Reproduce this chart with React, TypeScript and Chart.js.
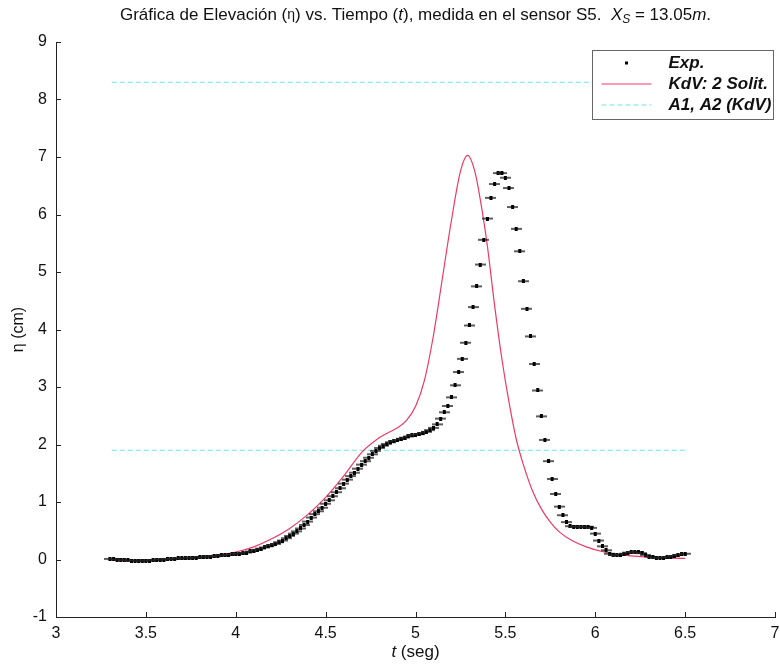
import React, { useEffect, useRef } from "react";
import { Chart, registerables } from "chart.js";

Chart.register(...registerables);

// ---------- data ----------
const X_TICKS = [3, 3.5, 4, 4.5, 5, 5.5, 6, 6.5, 7];
const Y_TICKS = [-1, 0, 1, 2, 3, 4, 5, 6, 7, 8, 9];

const T_EXP = [
  3.30, 3.32, 3.34, 3.36, 3.38, 3.40, 3.42, 3.44, 3.46, 3.48,
  3.50, 3.52, 3.54, 3.56, 3.58, 3.60, 3.62, 3.64, 3.66, 3.68,
  3.70, 3.72, 3.74, 3.76, 3.78, 3.80, 3.82, 3.84, 3.86, 3.88,
  3.90, 3.92, 3.94, 3.96, 3.98, 4.00, 4.02, 4.04, 4.06, 4.08,
  4.10, 4.12, 4.14, 4.16, 4.18, 4.20, 4.22, 4.24, 4.26, 4.28,
  4.30, 4.32, 4.34, 4.36, 4.38, 4.40, 4.42, 4.44, 4.46, 4.48,
  4.50, 4.52, 4.54, 4.56, 4.58, 4.60, 4.62, 4.64, 4.66, 4.68,
  4.70, 4.72, 4.74, 4.76, 4.78, 4.80, 4.82, 4.84, 4.86, 4.88,
  4.90, 4.92, 4.94, 4.96, 4.98, 5.00, 5.02, 5.04, 5.06, 5.08,
  5.10, 5.12, 5.14, 5.16, 5.18, 5.20, 5.22, 5.24, 5.26, 5.28,
  5.30, 5.32, 5.34, 5.36, 5.38, 5.40, 5.42, 5.44, 5.46, 5.48,
  5.50, 5.52, 5.54, 5.56, 5.58, 5.60, 5.62, 5.64, 5.66, 5.68,
  5.70, 5.72, 5.74, 5.76, 5.78, 5.80, 5.82, 5.84, 5.86, 5.88,
  5.90, 5.92, 5.94, 5.96, 5.98, 6.00, 6.02, 6.04, 6.06, 6.08,
  6.10, 6.12, 6.14, 6.16, 6.18, 6.20, 6.22, 6.24, 6.26, 6.28,
  6.30, 6.32, 6.34, 6.36, 6.38, 6.40, 6.42, 6.44, 6.46, 6.48,
  6.50,
];

const ETA_EXP = [
  0.01, 0.01, 0.00, 0.00, -0.01, -0.01, -0.02, -0.02, -0.02, -0.02,
  -0.02, -0.02, -0.01, -0.01, 0.00, 0.00, 0.01, 0.01, 0.01, 0.02,
  0.02, 0.02, 0.03, 0.03, 0.03, 0.04, 0.04, 0.05, 0.05, 0.06,
  0.06, 0.07, 0.07, 0.08, 0.09, 0.10, 0.10, 0.11, 0.12, 0.14,
  0.15, 0.17, 0.19, 0.21, 0.23, 0.25, 0.27, 0.30, 0.33, 0.37,
  0.41, 0.45, 0.49, 0.54, 0.60, 0.66, 0.73, 0.79, 0.84, 0.90,
  0.97, 1.03, 1.10, 1.17, 1.24, 1.32, 1.39, 1.45, 1.51, 1.58,
  1.65, 1.71, 1.77, 1.83, 1.89, 1.94, 1.98, 2.01, 2.04, 2.06,
  2.08, 2.10, 2.12, 2.14, 2.16, 2.17, 2.18, 2.20, 2.22, 2.25,
  2.29, 2.35, 2.45, 2.56, 2.67, 2.82, 3.03, 3.26, 3.49, 3.77,
  4.07, 4.39, 4.75, 5.13, 5.56, 5.93, 6.29, 6.53, 6.72, 6.72,
  6.64, 6.46, 6.13, 5.75, 5.36, 4.84, 4.36, 3.88, 3.40, 2.94,
  2.49, 2.08, 1.71, 1.40, 1.14, 0.92, 0.77, 0.65, 0.58, 0.57,
  0.57, 0.57, 0.57, 0.57, 0.55, 0.45, 0.33, 0.23, 0.16, 0.10,
  0.08, 0.07, 0.08, 0.10, 0.12, 0.13, 0.13, 0.13, 0.11, 0.08,
  0.05, 0.04, 0.03, 0.03, 0.03, 0.04, 0.05, 0.06, 0.08, 0.09,
  0.10,
];

const T_KDV = [
  3.30, 3.40, 3.50, 3.60, 3.70, 3.80, 3.90, 4.00, 4.10, 4.20,
  4.30, 4.40, 4.50, 4.60, 4.70, 4.80, 4.85, 4.90, 4.95, 5.00,
  5.05, 5.10, 5.15, 5.20, 5.25, 5.29, 5.33, 5.37, 5.40, 5.44,
  5.48, 5.52, 5.56, 5.60, 5.65, 5.70, 5.75, 5.80, 5.87, 5.95,
  6.05, 6.15, 6.30, 6.50,
];
const ETA_KDV = [
  -0.01, -0.02, -0.01, 0.00, 0.02, 0.05, 0.08, 0.13, 0.22, 0.36,
  0.54, 0.78, 1.08, 1.45, 1.86, 2.12, 2.21, 2.29, 2.42, 2.66,
  3.12, 3.90, 4.90, 5.90, 6.75, 7.03, 6.75, 6.08, 5.45, 4.42,
  3.50, 2.74, 2.10, 1.65, 1.20, 0.88, 0.65, 0.48, 0.33, 0.22,
  0.13, 0.08, 0.04, 0.02,
];

const T_AMP = [3.31, 6.5];
const A1 = 8.3;
const A2 = 1.9;

const LABEL_EXP = "Exp.";
const LABEL_KDV = "KdV: 2 Solit.";
const LABEL_AMP = "A1, A2 (KdV)";

// ---------- style ----------
const FONT = 'Arial, "Liberation Sans", Helvetica, sans-serif';
const RED = "rgb(236,58,102)";
const CYAN = "rgb(110,228,228)";

type Seg = { t: string; italic?: boolean; sub?: boolean; small?: boolean };
const TITLE_SEGS: Seg[] = [
  { t: "Gráfica de Elevación (" },
  { t: "η", small: true },
  { t: ") vs. Tiempo (" },
  { t: "t", italic: true },
  { t: "), medida en el sensor S5.  " },
  { t: "X", italic: true },
  { t: "S", italic: true, sub: true },
  { t: " = 13.05" },
  { t: "m", italic: true },
  { t: "." },
];
const XLABEL_SEGS: Seg[] = [{ t: "t", italic: true }, { t: " (seg)" }];
const YLABEL = "η (cm)";

function segFont(s: Seg, size: number) {
  const sz = s.sub ? size - 5 : s.small ? size - 3 : size;
  return `${s.italic ? "italic " : ""}${sz}px ${FONT}`;
}

function drawSegs(ctx: CanvasRenderingContext2D, segs: Seg[], cx: number, cy: number, size: number) {
  let total = 0;
  const widths = segs.map((s) => {
    ctx.font = segFont(s, size);
    const w = ctx.measureText(s.t).width;
    total += w;
    return w;
  });
  let x = cx - total / 2;
  ctx.textAlign = "left";
  ctx.textBaseline = "middle";
  segs.forEach((s, i) => {
    ctx.font = segFont(s, size);
    ctx.fillText(s.t, x, cy + (s.sub ? 5 : 0));
    x += widths[i];
  });
}

function makeMarker() {
  const c = document.createElement("canvas");
  c.width = 11;
  c.height = 4;
  const g = c.getContext("2d")!;
  g.fillStyle = "rgba(40,40,40,0.75)";
  g.fillRect(0, 1, 11, 2);
  g.fillStyle = "#000";
  g.fillRect(4, 0, 3, 4);
  return c;
}

const decorPlugin = {
  id: "decor",
  afterDraw(chart: any) {
    const ctx: CanvasRenderingContext2D = chart.ctx;
    const { left, right, top, bottom } = chart.chartArea;
    const xs = chart.scales.x;
    const ys = chart.scales.y;
    ctx.save();
    // inward ticks
    ctx.strokeStyle = "#222";
    ctx.lineWidth = 1;
    ctx.beginPath();
    X_TICKS.forEach((v) => {
      const px = Math.round(xs.getPixelForValue(v)) + 0.5;
      ctx.moveTo(px, bottom);
      ctx.lineTo(px, bottom - 5);
    });
    Y_TICKS.forEach((v) => {
      const py = Math.round(ys.getPixelForValue(v)) + 0.5;
      ctx.moveTo(left, py);
      ctx.lineTo(left + 5, py);
    });
    ctx.stroke();

    ctx.fillStyle = "#111";
    // title
    drawSegs(ctx, TITLE_SEGS, (left + right) / 2, 15, 17);
    // x label
    drawSegs(ctx, XLABEL_SEGS, (left + right) / 2, 652, 17);
    // y label
    ctx.save();
    ctx.translate(19, (top + bottom) / 2);
    ctx.rotate(-Math.PI / 2);
    ctx.font = `16px ${FONT}`;
    ctx.textAlign = "center";
    ctx.textBaseline = "middle";
    ctx.fillText(YLABEL, 0, 0);
    ctx.restore();

    // legend
    const bx = right - 182.5;
    const by = top + 8.5;
    const bw = 181;
    const bh = 69;
    ctx.fillStyle = "#fff";
    ctx.fillRect(bx, by, bw, bh);
    ctx.strokeStyle = "#666";
    ctx.lineWidth = 1;
    ctx.strokeRect(bx, by, bw, bh);
    const rows = [by + 12.5, by + 33.5, by + 54.5];
    const lx0 = bx + 9;
    const lx1 = bx + 59;
    const ds = chart.data.datasets;
    // Exp
    ctx.fillStyle = "#000";
    ctx.fillRect((lx0 + lx1) / 2 - 1.5, rows[0] - 1.5, 3, 3);
    // KdV
    ctx.strokeStyle = ds[1].borderColor;
    ctx.beginPath();
    ctx.moveTo(lx0, rows[1]);
    ctx.lineTo(lx1, rows[1]);
    ctx.stroke();
    // Amp
    ctx.strokeStyle = ds[2].borderColor;
    ctx.setLineDash([5, 3]);
    ctx.beginPath();
    ctx.moveTo(lx0, rows[2]);
    ctx.lineTo(lx1, rows[2]);
    ctx.stroke();
    ctx.setLineDash([]);
    ctx.fillStyle = "#111";
    ctx.font = `italic bold 17px ${FONT}`;
    ctx.textAlign = "left";
    ctx.textBaseline = "middle";
    [ds[0].label, ds[1].label, ds[2].label].forEach((lab: string, i: number) => {
      ctx.fillText(lab, bx + 76, rows[i]);
    });
    ctx.restore();
  },
};

export default function App() {
  const ref = useRef<HTMLCanvasElement | null>(null);

  useEffect(() => {
    if (!ref.current) return;
    const marker = makeMarker();
    const expData = T_EXP.map((t, i) => ({ x: t, y: ETA_EXP[i] }));
    const kdvData = T_KDV.map((t, i) => ({ x: t, y: ETA_KDV[i] }));
    const ampData = [
      { x: T_AMP[0], y: A1 },
      { x: T_AMP[1], y: A1 },
      { x: T_AMP[1], y: null },
      { x: T_AMP[0], y: A2 },
      { x: T_AMP[1], y: A2 },
    ];
    const chart = new Chart(ref.current, {
      type: "line",
      data: {
        datasets: [
          {
            label: LABEL_EXP,
            data: expData,
            showLine: false,
            pointStyle: marker as any,
            pointRadius: 3,
            order: 0,
          },
          {
            label: LABEL_KDV,
            data: kdvData,
            borderColor: RED,
            borderWidth: 1.2,
            pointRadius: 0,
            cubicInterpolationMode: "monotone",
            order: 1,
          },
          {
            label: LABEL_AMP,
            data: ampData as any,
            borderColor: CYAN,
            borderWidth: 1.2,
            borderDash: [5, 3],
            pointRadius: 0,
            spanGaps: false,
            order: 2,
          },
        ],
      },
      options: {
        animation: false,
        responsive: false,
        devicePixelRatio: 1,
        events: [],
        layout: { padding: { top: 42, right: 2, bottom: 0, left: 0 } },
        plugins: {
          legend: { display: false },
          title: { display: false },
          tooltip: { enabled: false },
        },
        scales: {
          x: {
            type: "linear",
            min: 3,
            max: 7,
            afterBuildTicks: (s: any) => {
              s.ticks = X_TICKS.map((v) => ({ value: v }));
            },
            afterFit: (s: any) => {
              s.height = 47;
              s.paddingLeft = 0;
              s.paddingRight = 0;
            },
            grid: { display: false, drawTicks: false },
            border: { display: true, color: "#222", width: 1 },
            ticks: {
              color: "#111",
              padding: 7,
              maxRotation: 0,
              autoSkip: false,
              font: { family: FONT, size: 16 },
              callback: (v: any) => String(v),
            },
          },
          y: {
            type: "linear",
            min: -1,
            max: 9,
            afterBuildTicks: (s: any) => {
              s.ticks = Y_TICKS.map((v) => ({ value: v }));
            },
            afterFit: (s: any) => {
              s.width = 56;
              s.paddingTop = 0;
              s.paddingBottom = 0;
            },
            grid: { display: false, drawTicks: false },
            border: { display: true, color: "#222", width: 1 },
            ticks: {
              color: "#111",
              padding: 9,
              autoSkip: false,
              font: { family: FONT, size: 16 },
              callback: (v: any) => String(v),
            },
          },
        },
      },
      plugins: [decorPlugin],
    });
    return () => chart.destroy();
  }, []);

  return (
    <div style={{ position: "absolute", left: 0, top: 0, width: 780, height: 664, background: "#fff" }}>
      <canvas ref={ref} width={780} height={664} style={{ width: 780, height: 664, display: "block" }} />
    </div>
  );
}
